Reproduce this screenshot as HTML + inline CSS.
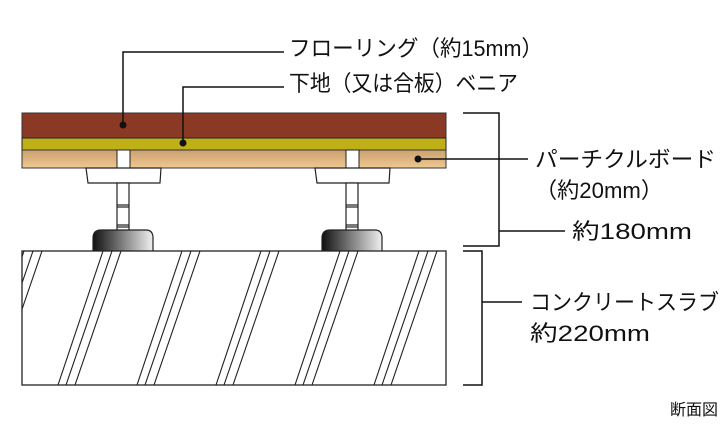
<!DOCTYPE html>
<html><head><meta charset="utf-8"><style>
body{margin:0;background:#fff;width:727px;height:424px;overflow:hidden}
svg text{font-family:"Liberation Sans","Noto Sans CJK JP",sans-serif;font-size:22px;fill:#111}
</style></head><body>
<svg width="727" height="424" viewBox="0 0 727 424" xmlns="http://www.w3.org/2000/svg">
<defs>
<linearGradient id="pb" x1="0" y1="0" x2="0" y2="1"><stop offset="0" stop-color="#caa070"/><stop offset="1" stop-color="#f0c890"/></linearGradient>
<linearGradient id="ft" x1="0" y1="0" x2="1" y2="0"><stop offset="0" stop-color="#111"/><stop offset="1" stop-color="#f0f0f0"/></linearGradient>
<clipPath id="sc"><rect x="22" y="251" width="424" height="134"/></clipPath>
</defs>
<rect x="22" y="113" width="424" height="25" fill="#8a3a24" stroke="#333" stroke-width="1"/>
<rect x="22" y="138" width="424" height="12" fill="#c0b018" stroke="#222" stroke-width="1"/>
<rect x="22" y="150" width="424" height="18" fill="url(#pb)" stroke="#333" stroke-width="1"/>
<rect x="117" y="150" width="13" height="18" fill="#fff" stroke="#222" stroke-width="1"/>
<rect x="346" y="150" width="13" height="18" fill="#fff" stroke="#222" stroke-width="1"/>
<g id="p" stroke="#222" stroke-width="1.2" fill="#fff">
<polygon points="86,168 161,168 160,183 88,183"/>
<rect x="117" y="183" width="12" height="48"/>
<line x1="117" y1="205" x2="129" y2="205"/><line x1="117" y1="207" x2="129" y2="207"/>
<line x1="117" y1="225" x2="129" y2="225"/><line x1="117" y1="227" x2="129" y2="227"/>
<path d="M93,251 V238 Q93,230 101,230 H146 Q153,230 153,238 V251" fill="url(#ft)"/>
</g>
<use href="#p" x="229"/>
<rect x="22" y="251" width="424" height="134" fill="#fff" stroke="#222" stroke-width="1.3"/>
<g clip-path="url(#sc)" stroke="#222" stroke-width="1.1">
<g id="d"><line x1="58" y1="385" x2="103" y2="251"/><line x1="66" y1="385" x2="112" y2="251"/><line x1="75" y1="385" x2="121" y2="251"/></g>
<use href="#d" x="-79"/><use href="#d" x="79"/><use href="#d" x="158"/><use href="#d" x="237"/><use href="#d" x="316"/>
</g>
<g stroke="#111" stroke-width="1.5" fill="none">
<polyline points="123,125 123,52 284,52"/>
<polyline points="183,143 183,87 284,87"/>
<line x1="418" y1="159" x2="528" y2="159"/>
<polyline points="463,113 499,113 499,246 463,246"/>
<line x1="499" y1="231" x2="565" y2="231"/>
<polyline points="463,251 482,251 482,385 463,385"/>
<line x1="482" y1="302" x2="522" y2="302"/>
</g>
<circle cx="123" cy="125" r="3.5" fill="#111"/>
<circle cx="183" cy="143" r="3.5" fill="#111"/>
<circle cx="418" cy="159" r="3.5" fill="#111"/>
<text x="289" y="56" textLength="254" lengthAdjust="spacingAndGlyphs">フローリング（約15mm）</text>
<text x="289" y="91" textLength="229" lengthAdjust="spacingAndGlyphs">下地（又は合板）ベニア</text>
<text x="535" y="167" textLength="181" lengthAdjust="spacingAndGlyphs">パーチクルボード</text>
<text x="535" y="198" textLength="128" lengthAdjust="spacingAndGlyphs">（約20mm）</text>
<text x="572" y="239" textLength="120" lengthAdjust="spacingAndGlyphs">約180mm</text>
<text x="530" y="310" textLength="189" lengthAdjust="spacingAndGlyphs">コンクリートスラブ</text>
<text x="530" y="341" textLength="120" lengthAdjust="spacingAndGlyphs">約220mm</text>
<text x="670" y="415" style="font-size:16px" textLength="48" lengthAdjust="spacingAndGlyphs">断面図</text>
</svg>
</body></html>
